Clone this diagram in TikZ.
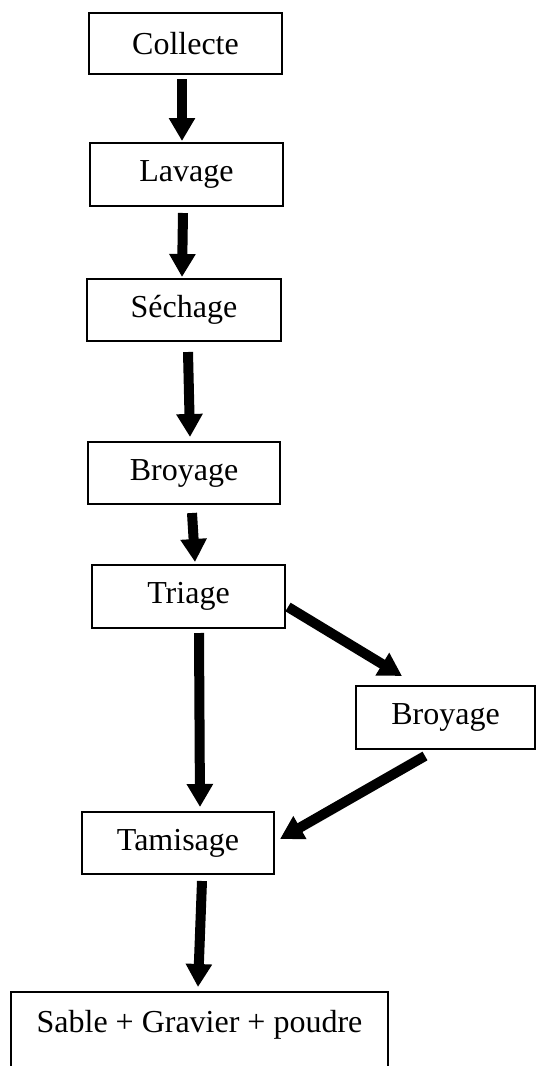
\documentclass[tikz,border=0pt]{standalone}
\usepackage{fontspec}
\setmainfont{Liberation Serif}
\usetikzlibrary{arrows.meta,calc}
\begin{document}
\begin{tikzpicture}[x=1pt,y=-1pt,
  box/.style={draw, line width=2pt, inner sep=0pt, minimum height=62pt, font=\fontsize{32}{36}\selectfont},
  flow/.style={line width=10pt, -{Triangle[length=23pt,width=25pt]}}]
\useasboundingbox (0,0) rectangle (537,1066);
\clip (0,0) rectangle (537,1066);
\node[box, minimum width=193pt, minimum height=61pt] (collecte) at (185.5,43.5) {Collecte};
\node[box, minimum width=193pt, minimum height=63pt] (lavage) at (186.5,174.5) {Lavage};
\node[box, minimum width=194pt] (sechage) at (184,310) {Séchage};
\node[box, minimum width=192pt] (broyA) at (184,473) {Broyage};
\node[box, minimum width=193pt, minimum height=63pt] (triage) at (188.5,596.5) {Triage};
\node[box, minimum width=179pt, minimum height=63pt] (broyB) at (445.5,717.5) {Broyage};
\node[box, minimum width=192pt] (tamisage) at (178,843) {Tamisage};
\node[box, anchor=north, minimum width=377pt, minimum height=0pt, text height=40pt, text depth=69pt] (sable) at (199.5,991) {Sable + Gravier + poudre};
\draw[flow] ($(collecte.south)+(-3.5,4)$) -- ($(lavage.north)+(-4.5,-1)$);
\draw[flow] ($(lavage.south)+(-3.5,6)$) -- ($(sechage.north)+(-2,-1)$);
\draw[flow] ($(sechage.south)+(4,10)$) -- ($(broyA.north)+(6,-4)$);
\draw[flow] ($(broyA.south)+(8,8)$) -- ($(triage.north)+(6.5,-2)$);
\draw[flow] ($(triage.south)+(10.5,4)$) -- ($(tamisage.north)+(22,-4)$);
\draw[flow] ($(triage.east)+(2,10.5)$) -- ($(broyB.north)+(-43.5,-9)$);
\draw[flow] ($(broyB.south)+(-20.5,6)$) -- ($(tamisage.east)+(5,-4)$);
\draw[flow] ($(tamisage.south)+(24,6)$) -- ($(sable.north)+(-1.5,-4)$);
\end{tikzpicture}
\end{document}
